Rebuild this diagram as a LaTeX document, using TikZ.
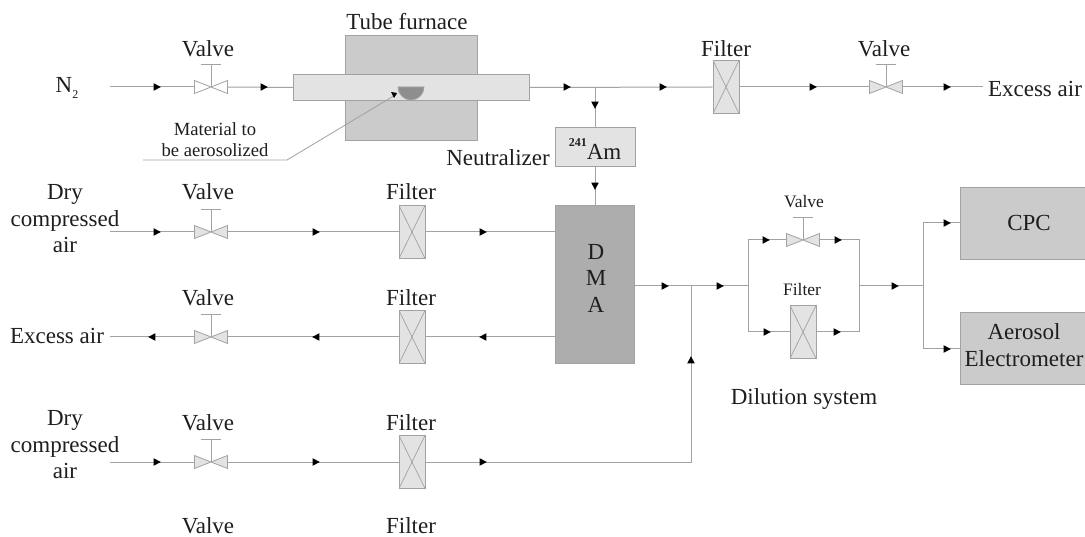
\documentclass[tikz,border=0pt]{standalone}
\usepackage{fontspec}
\setmainfont{Liberation Serif}
\definecolor{ln}{HTML}{A2A2A2}
\definecolor{tx}{HTML}{1E1E1E}
\definecolor{fl}{HTML}{E3E3E3}
\definecolor{md}{HTML}{CBCBCB}
\definecolor{dk}{HTML}{ADADAD}
\definecolor{bt}{HTML}{8E8E8E}
\tikzset{
 x=1pt,y=-1pt,
 conn/.style={draw=ln,line width=1pt},
 lab/.style={text=tx,inner sep=0pt,align=center,font=\fontsize{23}{26.5}\selectfont},
 sml/.style={text=tx,inner sep=0pt,align=center,font=\fontsize{17.5}{20}\selectfont},
 mat/.style={text=tx,inner sep=0pt,align=center,font=\fontsize{18.6}{21}\selectfont},
 boxn/.style={draw=ln,line width=1pt,inner sep=0pt,anchor=north west},
 filterbox/.style={draw=ln,line width=1pt,fill=fl,inner sep=0pt,minimum width=26pt,minimum height=53pt,
   path picture={\draw[ln,line width=.7pt] (path picture bounding box.north west)--(path picture bounding box.south east)
     (path picture bounding box.north east)--(path picture bounding box.south west);}},
 valvebox/.style={inner sep=0pt,minimum width=33pt,minimum height=13pt},
}
\newcommand\valvesym[3]{%
 \node[valvebox] (#1) at (#2,#3) {};
 \draw[ln,line width=.8pt,fill=#1fill] (#2-16.5,#3-6.5)--(#2+16.5,#3+6.5)--(#2+16.5,#3-6.5)--(#2-16.5,#3+6.5)--cycle;
 \draw[ln,line width=.8pt] (#2,#3)--(#2,#3-23) (#2-10,#3-23)--(#2+10,#3-23);}
\colorlet{vAfill}{white}\colorlet{vBfill}{fl}\colorlet{vCfill}{fl}\colorlet{vDfill}{fl}\colorlet{vEfill}{fl}\colorlet{vFfill}{fl}
\newcommand\tipR[2]{\fill[black] (#1-3.4,#2-3.8)--(#1+3.8,#2)--(#1-3.4,#2+3.8)--cycle;}
\newcommand\tipL[2]{\fill[black] (#1+3.4,#2-3.8)--(#1-3.8,#2)--(#1+3.4,#2+3.8)--cycle;}
\newcommand\tipD[2]{\fill[black] (#1-3.8,#2-3.4)--(#1,#2+3.8)--(#1+3.8,#2-3.4)--cycle;}
\newcommand\tipU[2]{\fill[black] (#1-3.8,#2+3.4)--(#1,#2-3.8)--(#1+3.8,#2+3.4)--cycle;}
\begin{document}
\begin{tikzpicture}
\useasboundingbox (0,0) rectangle (1085,537);
% free ends and junctions
\coordinate (n2) at (110,87);
\coordinate (exT) at (983,87);
\coordinate (brT) at (595,87);
\coordinate (d1) at (110,232);
\coordinate (ex2) at (110,337);
\coordinate (d3) at (110,462);
\coordinate (jM) at (691,286);
\coordinate (corner) at (691,462);
\coordinate (pL) at (748,286);
\coordinate (pLt) at (748,240);
\coordinate (pLb) at (748,332);
\coordinate (pR) at (859,286);
\coordinate (pRt) at (859,240);
\coordinate (pRb) at (859,332);
\coordinate (sp) at (923,286);
\coordinate (spT) at (923,223);
\coordinate (spB) at (923,349);
\coordinate (leadA) at (143,160);
\coordinate (leadB) at (287,160);
% boxes
\node[boxn,fill=md,minimum width=132pt,minimum height=105pt] (furn) at (345,35) {};
\node[boxn,fill=fl,minimum width=236pt,minimum height=26pt] (tube) at (293,74) {};
\fill[bt] (398,87) arc[start angle=180,end angle=0,radius=13] -- cycle;
\draw[ln,line width=.7pt] (398,87) arc[start angle=180,end angle=0,radius=13] -- cycle;
\node[boxn,fill=fl,minimum width=80pt,minimum height=39pt] (am) at (555,127) {};
\node[boxn,fill=dk,minimum width=79pt,minimum height=158pt] (dma) at (555,205) {};
\node[boxn,fill=md,minimum width=126pt,minimum height=72pt] (cpc) at (960,187) {};
\node[boxn,fill=md,minimum width=126pt,minimum height=72pt] (ae) at (960,312) {};
% valves & filters
\valvesym{vA}{211}{87}
\valvesym{vB}{886}{87}
\valvesym{vC}{211}{232}
\valvesym{vD}{211}{337}
\valvesym{vE}{211}{462}
\valvesym{vF}{803}{240}
\node[filterbox] (fA) at (726,87) {};
\node[filterbox] (fB) at (412,232) {};
\node[filterbox] (fC) at (412,337) {};
\node[filterbox] (fD) at (412,462) {};
\node[filterbox] (fE) at (803,332) {};
% connectors
\begin{scope}[every path/.style={conn}]
\draw (n2)--(vA.west);
\draw (vA.east)--(tube.west);
\draw (tube.east)--(fA.west);
\draw (fA.east)--(vB.west);
\draw (vB.east)--(exT);
\draw (brT)--(am.north-|brT);
\draw (am.south-|brT)--(dma.north-|brT);
\draw (d1)--(vC.west);
\draw (vC.east)--(fB.west);
\draw (fB.east)--(fB.east-|dma.west);
\draw (ex2)--(vD.west);
\draw (vD.east)--(fC.west);
\draw (fC.east)--(fC.east-|dma.west);
\draw (d3)--(vE.west);
\draw (vE.east)--(fD.west);
\draw (fD.east)--(corner)--(jM);
\draw (dma.east|-jM)--(pL);
\draw (pLb)--(pLt)--(vF.west);
\draw (vF.east)--(pRt)--(pRb)--(fE.east|-pRb);
\draw (pLb)--(fE.west|-pLb);
\draw (pR)--(sp);
\draw (cpc.west|-spT)--(spT)--(spB)--(ae.west|-spB);
\draw[line width=.8pt] (leadA)--(leadB)--(397,94);
\end{scope}
% arrowheads
\tipR{157}{87}\tipR{264}{87}\tipR{567}{87}\tipR{663}{87}\tipR{813}{87}\tipR{947}{87}
\tipD{595}{105}\tipD{595}{186}
\tipR{157}{232}\tipR{316}{232}\tipR{483}{232}
\tipL{152}{337}\tipL{316}{337}\tipL{483}{337}
\tipR{157}{462}\tipR{316}{462}\tipR{483}{462}
\tipR{665}{286}\tipR{720}{286}
\tipU{691}{360}
\tipR{766}{240}\tipR{838}{240}\tipR{767}{332}\tipR{837}{332}
\tipR{895}{286}\tipR{947}{223}\tipR{947}{349}
\fill[black] (397,93)--(391,92)--(394,98)--cycle;
% labels
\node[lab] (tN2) at (67,88) {N\raisebox{-.25em}{\fontsize{12}{12}\selectfont 2}};
\node[lab] (tTF) at (407,22) {Tube furnace};
\node[lab] (tV1) at (208,49) {Valve};
\node[lab] (tF1) at (726,49) {Filter};
\node[lab] (tV2) at (884,49) {Valve};
\node[lab] (tEx) at (1035,89) {Excess air};
\node[mat] (tMat) at (215,140) {Material to\\be aerosolized};
\node[lab] (tNeu) at (498,158) {Neutralizer};
\node[lab] (tAm) at (595,149) {\raisebox{.55em}{\bfseries\fontsize{12}{12}\selectfont 241}Am};
\node[lab] (tD1) at (65,219) {Dry\\compressed\\air};
\node[lab] (tV3) at (208,192) {Valve};
\node[lab] (tF2) at (411,192) {Filter};
\node[lab] (tV4) at (208,298) {Valve};
\node[lab] (tF3) at (411,298) {Filter};
\node[lab] (tEx2) at (57,336) {Excess air};
\node[lab] (tD2) at (65,445) {Dry\\compressed\\air};
\node[lab] (tV5) at (208,423) {Valve};
\node[lab] (tF4) at (411,423) {Filter};
\node[lab] (tV6) at (208,526) {Valve};
\node[lab] (tF5) at (411,526) {Filter};
\node[lab] (tDMA) at (596,278) {D\\M\\A};
\node[sml] (tV7) at (804,202) {Valve};
\node[sml] (tF6) at (802,290) {Filter};
\node[lab] (tDil) at (804,399) {Dilution system};
\node[lab] (tCPC) at (1029,223) {CPC};
\node[lab] (tAe) at (1024,345) {Aerosol\\Electrometer};
\end{tikzpicture}
\end{document}
